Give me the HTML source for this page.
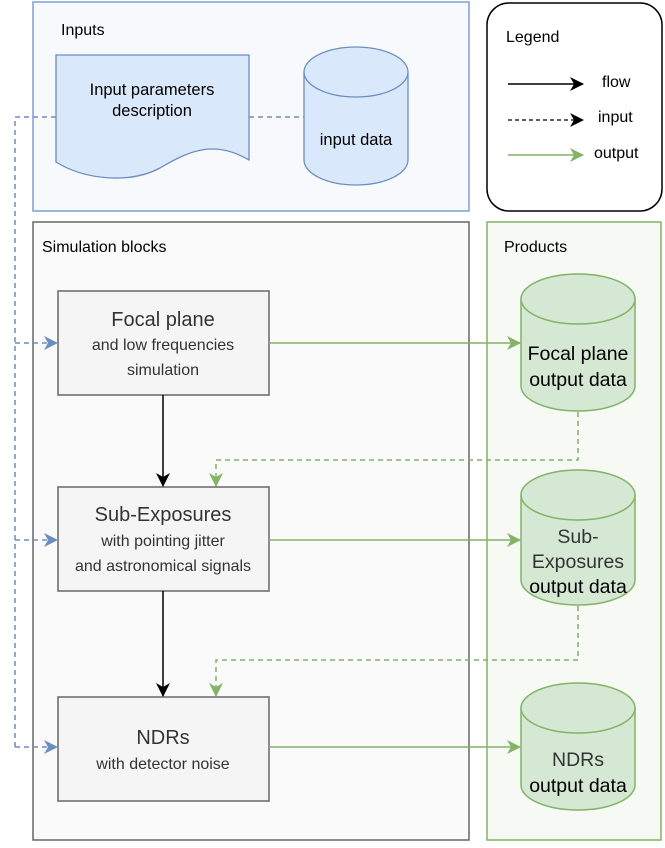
<!DOCTYPE html>
<html><head><style>html,body{margin:0;padding:0;background:#fff}svg{display:block;font-family:"Liberation Sans",Arial,sans-serif}</style></head>
<body>
<svg width="665" height="848" viewBox="0 0 665 848" xmlns="http://www.w3.org/2000/svg">
<defs>
<marker id="ab" markerWidth="14" markerHeight="14" refX="13" refY="7" orient="auto" markerUnits="userSpaceOnUse"><path d="M0,0 L14,7 L0,14 L4,7 Z" fill="#000"/></marker>
<marker id="ag" markerWidth="14" markerHeight="14" refX="13" refY="7" orient="auto" markerUnits="userSpaceOnUse"><path d="M0,0 L14,7 L0,14 L4,7 Z" fill="#82b366"/></marker>
<marker id="au" markerWidth="14" markerHeight="14" refX="13" refY="7" orient="auto" markerUnits="userSpaceOnUse"><path d="M0,0 L14,7 L0,14 L4,7 Z" fill="#6c8ebf"/></marker>
</defs>
<rect x="33" y="2" width="436" height="209" fill="#f7f9fd" stroke="#7e9fd3" stroke-width="1.5"/>
<text x="61" y="35" font-size="16">Inputs</text>
<path d="M56,55 H249 V160 C215,140 190,150 160,168 C130,184 85,180 56,162 Z" fill="#dae8fc" stroke="#6c8ebf" stroke-width="1.3"/>
<text x="152" y="95" font-size="16.5" text-anchor="middle">Input parameters</text>
<text x="152" y="116" font-size="16.5" text-anchor="middle">description</text>
<path d="M304,72 V160 A52,25 0 0 0 408,160 V72" fill="#dae8fc" stroke="#6c8ebf" stroke-width="1.3"/>
<ellipse cx="356" cy="72" rx="52" ry="25" fill="#dae8fc" stroke="#6c8ebf" stroke-width="1.3"/>
<text x="356" y="145" font-size="16.5" text-anchor="middle">input data</text>
<rect x="487" y="3" width="175" height="208" rx="22" fill="#fff" stroke="#000" stroke-width="1.5"/>
<text x="506" y="42" font-size="16">Legend</text>
<line x1="508" y1="84" x2="583" y2="84" stroke="#000" stroke-width="1.5" marker-end="url(#ab)"/>
<text x="602" y="87" font-size="16">flow</text>
<line x1="508" y1="120" x2="583" y2="120" stroke="#000" stroke-width="1.3" stroke-dasharray="4,3" marker-end="url(#ab)"/>
<text x="598" y="122" font-size="16">input</text>
<line x1="508" y1="155" x2="583" y2="155" stroke="#82b366" stroke-width="1.5" marker-end="url(#ag)"/>
<text x="594" y="158" font-size="16">output</text>
<rect x="33" y="222" width="436" height="618" fill="#fafafa" stroke="#666" stroke-width="1.5"/>
<text x="42" y="252" font-size="16">Simulation blocks</text>
<rect x="487" y="222" width="174" height="618" fill="#f6f9f4" stroke="#82b366" stroke-width="1.5"/>
<text x="504" y="252" font-size="16">Products</text>
<rect x="58" y="291" width="211" height="104" fill="#f5f5f5" stroke="#666" stroke-width="1.5"/>
<text x="163" y="326" font-size="20" text-anchor="middle" fill="#333">Focal plane</text>
<text x="163" y="350" font-size="16" text-anchor="middle" fill="#333">and low frequencies</text>
<text x="163" y="375" font-size="16" text-anchor="middle" fill="#333">simulation</text>
<rect x="58" y="487" width="211" height="104" fill="#f5f5f5" stroke="#666" stroke-width="1.5"/>
<text x="163" y="521" font-size="20" text-anchor="middle" fill="#333">Sub-Exposures</text>
<text x="163" y="546" font-size="16" text-anchor="middle" fill="#333">with pointing jitter</text>
<text x="163" y="571" font-size="16" text-anchor="middle" fill="#333">and astronomical signals</text>
<rect x="58" y="697" width="211" height="104" fill="#f5f5f5" stroke="#666" stroke-width="1.5"/>
<text x="163" y="744" font-size="20" text-anchor="middle" fill="#333">NDRs</text>
<text x="163" y="769" font-size="16" text-anchor="middle" fill="#333">with detector noise</text>
<g fill="#d5e8d4" stroke="#82b366" stroke-width="1.5">
<path d="M521,299 V386 A57,25 0 0 0 635,386 V299"/><ellipse cx="578" cy="299" rx="57" ry="25"/>
<path d="M521,495 V580 A57,25 0 0 0 635,580 V495"/><ellipse cx="578" cy="495" rx="57" ry="25"/>
<path d="M521,708 V785 A57,25 0 0 0 635,785 V708"/><ellipse cx="578" cy="708" rx="57" ry="25"/>
</g>
<text x="578" y="360" font-size="19.5" text-anchor="middle">Focal plane</text>
<text x="578" y="386" font-size="19.5" text-anchor="middle">output data</text>
<text x="578" y="543" font-size="19.5" text-anchor="middle" fill="#333">Sub-</text>
<text x="578" y="568" font-size="19.5" text-anchor="middle" fill="#333">Exposures</text>
<text x="578" y="593" font-size="19.5" text-anchor="middle">output data</text>
<text x="578" y="766" font-size="19.5" text-anchor="middle" fill="#333">NDRs</text>
<text x="578" y="792" font-size="19.5" text-anchor="middle">output data</text>
<g fill="none" stroke="#6c8ebf" stroke-width="1.5" stroke-dasharray="5,4">
<path d="M56,117 H15 V747"/>
<line x1="249" y1="117" x2="304" y2="117"/>
<line x1="15" y1="343" x2="57" y2="343" marker-end="url(#au)"/>
<line x1="15" y1="540" x2="57" y2="540" marker-end="url(#au)"/>
<line x1="15" y1="747" x2="57" y2="747" marker-end="url(#au)"/>
</g>
<line x1="163" y1="395" x2="163" y2="486" stroke="#000" stroke-width="1.5" marker-end="url(#ab)"/>
<line x1="163" y1="591" x2="163" y2="696" stroke="#000" stroke-width="1.5" marker-end="url(#ab)"/>
<g stroke="#82b366" stroke-width="1.5">
<line x1="269" y1="343" x2="520" y2="343" marker-end="url(#ag)"/>
<line x1="269" y1="540" x2="520" y2="540" marker-end="url(#ag)"/>
<line x1="269" y1="747" x2="520" y2="747" marker-end="url(#ag)"/>
</g>
<g fill="none" stroke="#82b366" stroke-width="1.5" stroke-dasharray="5,4">
<path d="M578,412 V460 H216 V486" marker-end="url(#ag)"/>
<path d="M578,606 V660 H216 V696" marker-end="url(#ag)"/>
</g>
</svg>
</body></html>
